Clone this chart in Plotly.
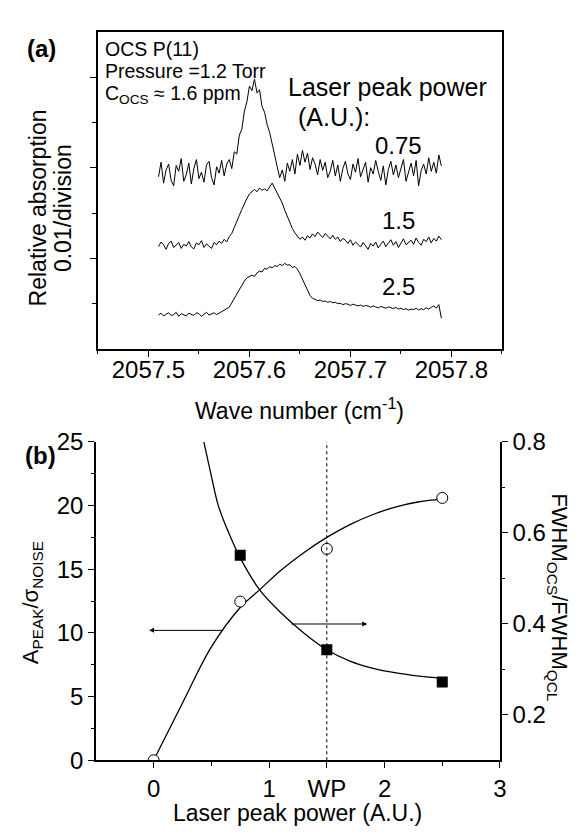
import plotly.graph_objects as go

W, H = 581, 832

# --- panel (a): absorption spectra at three laser peak powers ---
wave = [
    2057.5100, 2057.5125, 2057.5150, 2057.5175, 2057.5200, 2057.5225, 2057.5250, 2057.5275, 2057.5300, 2057.5325,
    2057.5350, 2057.5375, 2057.5400, 2057.5425, 2057.5450, 2057.5475, 2057.5500, 2057.5525, 2057.5550, 2057.5575,
    2057.5600, 2057.5625, 2057.5650, 2057.5675, 2057.5700, 2057.5725, 2057.5750, 2057.5775, 2057.5800, 2057.5825,
    2057.5850, 2057.5875, 2057.5900, 2057.5925, 2057.5950, 2057.5975, 2057.6000, 2057.6025, 2057.6050, 2057.6075,
    2057.6100, 2057.6125, 2057.6150, 2057.6175, 2057.6200, 2057.6225, 2057.6250, 2057.6275, 2057.6300, 2057.6325,
    2057.6350, 2057.6375, 2057.6400, 2057.6425, 2057.6450, 2057.6475, 2057.6500, 2057.6525, 2057.6550, 2057.6575,
    2057.6600, 2057.6625, 2057.6650, 2057.6675, 2057.6700, 2057.6725, 2057.6750, 2057.6775, 2057.6800, 2057.6825,
    2057.6850, 2057.6875, 2057.6900, 2057.6925, 2057.6950, 2057.6975, 2057.7000, 2057.7025, 2057.7050, 2057.7075,
    2057.7100, 2057.7125, 2057.7150, 2057.7175, 2057.7200, 2057.7225, 2057.7250, 2057.7275, 2057.7300, 2057.7325,
    2057.7350, 2057.7375, 2057.7400, 2057.7425, 2057.7450, 2057.7475, 2057.7500, 2057.7525, 2057.7550, 2057.7575,
    2057.7600, 2057.7625, 2057.7650, 2057.7675, 2057.7700, 2057.7725, 2057.7750, 2057.7775, 2057.7800, 2057.7825,
    2057.7850, 2057.7875, 2057.7900,
]

abs_075 = [
    3.80, 4.12, 3.66, 3.95, 4.08, 3.72, 3.60, 4.05, 3.92, 4.20,
    3.70, 3.85, 4.10, 3.64, 3.98, 4.18, 3.76, 3.90, 3.68, 4.06,
    4.14, 3.78, 3.62, 4.02, 3.88, 4.16, 3.82, 4.08, 4.18, 3.98,
    4.35, 4.30, 4.72, 4.85, 5.25, 5.45, 5.80, 5.70, 5.95, 5.65,
    5.72, 5.35, 5.22, 4.95, 4.78, 4.50, 4.28, 4.02, 3.78, 3.95,
    3.70, 4.10, 3.92, 4.18, 3.86, 4.30, 4.05, 4.38, 4.12, 4.32,
    3.96, 4.22, 4.08, 3.84, 4.18, 3.94, 4.12, 3.78, 3.92, 4.16,
    3.82, 4.06, 3.70, 3.98, 4.14, 3.86, 3.74, 4.08, 3.90, 4.20,
    3.80, 3.94, 4.12, 3.68, 4.00, 3.86, 4.16, 3.92, 3.72, 4.04,
    3.62, 3.96, 4.14, 3.84, 4.06, 3.78, 3.98, 4.18, 3.70, 3.90,
    4.10, 3.82, 4.16, 3.60, 3.94, 4.08, 3.86, 4.22, 3.92, 4.12,
    3.88, 4.28, 4.04,
]

abs_15 = [
    2.26, 2.36, 2.30, 2.20, 2.33, 2.38, 2.24, 2.29, 2.35, 2.22,
    2.31, 2.27, 2.37, 2.25, 2.21, 2.34, 2.30, 2.39, 2.24, 2.32,
    2.28, 2.22, 2.35, 2.30, 2.38, 2.33, 2.42, 2.36, 2.48, 2.55,
    2.68, 2.80, 2.95, 3.08, 3.22, 3.32, 3.42, 3.48, 3.52, 3.47,
    3.55, 3.50, 3.53, 3.49, 3.58, 3.66, 3.55, 3.44, 3.36, 3.22,
    3.06, 2.92, 2.78, 2.66, 2.56, 2.48, 2.42, 2.47, 2.40, 2.50,
    2.45, 2.54, 2.48, 2.58, 2.52, 2.46, 2.55, 2.49, 2.43, 2.51,
    2.42, 2.47, 2.37, 2.44, 2.40, 2.33, 2.41, 2.29, 2.36, 2.31,
    2.25, 2.35, 2.28, 2.20, 2.33, 2.27, 2.36, 2.23, 2.31, 2.38,
    2.26, 2.34, 2.41, 2.29, 2.37, 2.24, 2.33, 2.43, 2.30, 2.36,
    2.40, 2.31, 2.45, 2.35, 2.29, 2.42, 2.37, 2.47, 2.34, 2.44,
    2.38, 2.49, 2.41,
]

abs_25 = [
    0.75, 0.79, 0.73, 0.77, 0.80, 0.74, 0.76, 0.81, 0.72, 0.78,
    0.76, 0.73, 0.79, 0.77, 0.74, 0.80, 0.78, 0.72, 0.77, 0.81,
    0.75, 0.78, 0.80, 0.76, 0.79, 0.82, 0.85, 0.88, 0.92, 1.02,
    1.12, 1.22, 1.30, 1.40, 1.50, 1.57, 1.60, 1.63, 1.60, 1.68,
    1.72, 1.70, 1.78, 1.76, 1.82, 1.79, 1.84, 1.82, 1.87, 1.84,
    1.89, 1.85, 1.86, 1.80, 1.82, 1.76, 1.66, 1.54, 1.40, 1.28,
    1.18, 1.12, 1.09, 1.07, 1.08, 1.05, 1.06, 1.03, 1.05, 1.02,
    1.03, 1.00, 1.01, 0.98, 1.00, 0.99, 0.96, 0.99, 0.97, 0.95,
    0.97, 0.94, 0.96, 0.95, 0.92, 0.95, 0.93, 0.91, 0.94, 0.92,
    0.90, 0.93, 0.91, 0.89, 0.92, 0.88, 0.90, 0.87, 0.89, 0.86,
    0.88, 0.87, 0.90, 0.86, 0.89, 0.87, 0.91, 0.88, 0.92, 0.95,
    0.90, 0.98, 0.68,
]

power_labels = ["0.75", "1.5", "2.5"]
label_y = [4.5, 2.84, 1.39]

# --- panel (b): SNR and linewidth ratio vs laser peak power ---
power = [0, 0.75, 1.5, 2.5]
snr = [0, 12.46, 16.6, 20.6]
fwhm_power = [0.75, 1.5, 2.5]
fwhm_ratio = [0.551, 0.343, 0.272]

snr_fit_x = [0, 0.25, 0.5, 0.75, 0.92, 1.1, 1.3, 1.5, 1.7, 1.9, 2.1, 2.3, 2.5]
snr_fit_y = [0, 4.5, 8.9, 12.0, 13.4, 14.9, 16.3, 17.5, 18.5, 19.3, 19.9, 20.3, 20.5]
fwhm_fit_x = [0.435, 0.5, 0.56, 0.65, 0.75, 0.92, 1.1, 1.3, 1.5, 1.7, 1.9, 2.1, 2.3, 2.5]
fwhm_fit_y = [0.80, 0.725, 0.66, 0.60, 0.545, 0.474, 0.425, 0.38, 0.343, 0.318, 0.302, 0.292, 0.285, 0.28]

x_ticks_b = [0, 1, 1.5, 2, 3]
x_ticktext_b = ["0", "1", "WP", "2", "3"]

FONT = "Arial, Liberation Sans, sans-serif"


def px(x):
    return x / W


def py(y):
    return 1 - y / H


fig = go.Figure()

for ys in (abs_075, abs_15, abs_25):
    fig.add_trace(go.Scatter(x=wave, y=ys, mode="lines", xaxis="x", yaxis="y",
                             line=dict(color="black", width=1), showlegend=False))

fig.add_trace(go.Scatter(x=snr_fit_x, y=snr_fit_y, mode="lines", xaxis="x2", yaxis="y2",
                         line=dict(color="black", width=1.3, shape="spline"), showlegend=False))
fig.add_trace(go.Scatter(x=fwhm_fit_x, y=fwhm_fit_y, mode="lines", xaxis="x2", yaxis="y3",
                         line=dict(color="black", width=1.3, shape="spline"), showlegend=False))
fig.add_trace(go.Scatter(x=power, y=snr, mode="markers", xaxis="x2", yaxis="y2",
                         marker=dict(symbol="circle", size=11, color="white", line=dict(color="black", width=1)),
                         showlegend=False))
fig.add_trace(go.Scatter(x=fwhm_power, y=fwhm_ratio, mode="markers", xaxis="x2", yaxis="y3",
                         marker=dict(symbol="square", size=11, color="black"), showlegend=False))

tick_common = dict(color="black", showline=True, linecolor="black", linewidth=1.5,
                   ticks="outside", tickcolor="black", tickwidth=1.2, ticklen=6,
                   tickfont=dict(size=24, family=FONT, color="black"),
                   showgrid=False, zeroline=False)

fig.update_layout(
    width=W, height=H,
    margin=dict(l=0, r=0, t=0, b=0),
    plot_bgcolor="white", paper_bgcolor="white",
    font=dict(family=FONT, color="black"),
    xaxis=dict(domain=[px(91), px(500)], anchor="y", range=[2057.45, 2057.85],
               tick0=2057.5, dtick=0.1, tickformat=".1f", mirror=True, ticklabelstandoff=-8,
               minor=dict(dtick=0.05, tick0=2057.45, ticklen=3, ticks="outside", tickcolor="black"),
               **tick_common),
    yaxis=dict(domain=[py(338), py(10)], anchor="x", range=[0, 7],
               tickvals=[2, 4, 6], showticklabels=False, mirror=True,
               minor=dict(tickvals=[1, 3, 5], ticklen=4, ticks="outside", tickcolor="black"),
               **tick_common),
    xaxis2=dict(domain=[px(89), px(498)], anchor="y2", range=[-0.5, 3],
                tickvals=x_ticks_b, ticktext=x_ticktext_b,
                minor=dict(tickvals=[0.5, 2.5], ticklen=4, ticks="outside", tickcolor="black"),
                **tick_common),
    xaxis3=dict(domain=[px(89), px(498)], anchor="y2", overlaying="x2", side="top",
                range=[-0.5, 3], tickvals=[0, 0.5, 1, 1.5, 2, 2.5], showticklabels=False,
                showline=True, linecolor="black", linewidth=1.5, ticks="inside",
                tickcolor="black", ticklen=5, showgrid=False, zeroline=False),
    yaxis2=dict(domain=[py(763), py(434)], anchor="x2", range=[0, 25],
                tickvals=[0, 5, 10, 15, 20, 25],
                minor=dict(dtick=2.5, tick0=0, ticklen=3, ticks="outside", tickcolor="black"),
                **tick_common),
    yaxis3=dict(domain=[py(763), py(434)], anchor="x2", overlaying="y2", side="right",
                range=[0.1, 0.8], tickvals=[0.2, 0.4, 0.6, 0.8], ticktext=["0.2", "0.4", "0.6", "0.8"],
                minor=dict(tickvals=[0.3, 0.5, 0.7], ticklen=3, ticks="outside", tickcolor="black"),
                **tick_common),
)

# WP dotted marker line
fig.add_shape(type="line", xref="x2", yref="paper", x0=1.5, x1=1.5, y0=py(763), y1=py(434),
              line=dict(color="black", width=1, dash="dot"))

ann = []


def text(x, y, s, size, xanchor="center", angle=0, bold=False):
    if bold:
        s = "<b>" + s + "</b>"
    ann.append(dict(x=px(x), y=py(y), xref="paper", yref="paper", text=s, showarrow=False,
                    xanchor=xanchor, yanchor="middle", textangle=angle,
                    font=dict(size=size, family=FONT, color="black")))


text(34, 27, "(a)", 24, bold=True)
text(33, 448, "(b)", 24, bold=True)
text(96, 28, "OCS P(11)", 19.5, xanchor="left")
text(96, 51, "Pressure =1.2 Torr", 19.5, xanchor="left")
text(96, 75, "C<sub>OCS</sub> ≈ 1.6 ppm", 19.5, xanchor="left")
text(384, 67, "Laser peak power", 25)
text(330, 98, "(A.U.):", 25)
text(30, 192, "Relative absorption", 23, angle=-90)
text(55, 192, "0.01/division", 23, angle=-90)
text(295, 400, "Wave number (cm<sup>-1</sup>)", 23)
text(293, 818, "Laser peak power (A.U.)", 23)
text(24, 600, "A<sub>PEAK</sub>/σ<sub>NOISE</sub>", 22, angle=-90)
text(557, 595, "FWHM<sub>OCS</sub>/FWHM<sub>QCL</sub>", 22, angle=90)

for lab, yv in zip(power_labels, label_y):
    ann.append(dict(x=2057.748, y=yv, xref="x", yref="y", text=lab, showarrow=False,
                    font=dict(size=24, family=FONT, color="black")))

# arrows pointing to the relevant axes
ann.append(dict(x=-0.04, y=10.2, ax=0.61, ay=10.2, xref="x2", yref="y2", axref="x2", ayref="y2",
                text="", showarrow=True, arrowhead=2, arrowsize=1, arrowwidth=1, arrowcolor="black"))
ann.append(dict(x=1.85, y=10.7, ax=1.18, ay=10.7, xref="x2", yref="y2", axref="x2", ayref="y2",
                text="", showarrow=True, arrowhead=2, arrowsize=1, arrowwidth=1, arrowcolor="black"))

fig.update_layout(annotations=ann)

fig.write_html("out.html")
